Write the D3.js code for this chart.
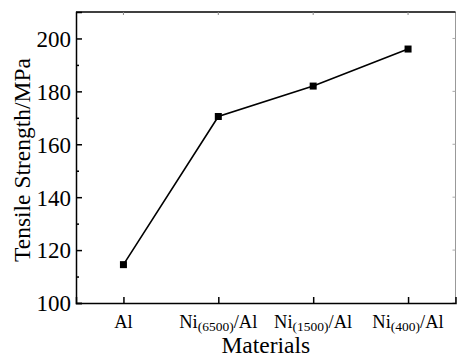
<!DOCTYPE html>
<html><head><meta charset="utf-8">
<script src="https://cdn.jsdelivr.net/npm/d3@7"></script>
<style>body{margin:0;background:#fff}svg{display:block}text{font-family:"Liberation Serif","Times New Roman",serif}</style>
</head><body>
<script>
const categories = ["Al", "Ni(6500)/Al", "Ni(1500)/Al", "Ni(400)/Al"];
const catBase = ["Ni", "Ni", "Ni", "Ni"];
const catSub = ["", "(6500)", "(1500)", "(400)"];
const values = [114.5, 170.5, 182, 196];
const yTicks = [100, 120, 140, 160, 180, 200];
const yMinor = [110, 130, 150, 170, 190];
const yDomain = [100, 210];

const W = 457, H = 359;
const m = {l: 76, r: 1.5, t: 12, b: 56};
const svg = d3.select("body").append("svg").attr("width", W).attr("height", H);
const x = d3.scaleLinear().domain([-0.5, 3.5]).range([m.l, W - m.r]);
const y = d3.scaleLinear().domain(yDomain).range([H - m.b, m.t]);

// right & top frame
svg.append("line").attr("x1", W - m.r).attr("x2", W - m.r).attr("y1", m.t).attr("y2", H - m.b)
  .attr("stroke", "#999").attr("stroke-width", 1);
svg.append("line").attr("x1", m.l).attr("x2", W - m.r).attr("y1", m.t).attr("y2", m.t)
  .attr("stroke", "#000").attr("stroke-width", 1.5);

// top / right ticks
categories.forEach((c, i) => {
  svg.append("line").attr("x1", x(i)).attr("x2", x(i)).attr("y1", m.t).attr("y2", m.t + 3)
    .attr("stroke", "#888").attr("stroke-width", 1);
});
yTicks.forEach(v => {
  svg.append("line").attr("x1", W - m.r).attr("x2", W - m.r - 3).attr("y1", y(v)).attr("y2", y(v))
    .attr("stroke", "#aaa").attr("stroke-width", 1);
});

// y axis
const yAxis = d3.axisLeft(y).tickValues(yTicks).tickSize(-6).tickPadding(5).tickFormat(d3.format("d"));
const gy = svg.append("g").attr("transform", `translate(${m.l},0)`).call(yAxis);
gy.attr("font-family", null);
gy.select(".domain").attr("stroke-width", 1.5);
gy.selectAll(".tick line").attr("stroke-width", 1.5);
gy.selectAll("text").attr("font-size", 23).attr("dy", "0.34em");
const yAxisMinor = d3.axisLeft(y).tickValues(yMinor).tickSize(-3).tickFormat("");
const gym = svg.append("g").attr("transform", `translate(${m.l},0)`).call(yAxisMinor);
gym.select(".domain").remove();
gym.selectAll(".tick line").attr("stroke-width", 1.5);

// x axis
const xAxis = d3.axisBottom(x).tickValues([0, 1, 2, 3]).tickSize(-6).tickFormat("");
const gx = svg.append("g").attr("transform", `translate(0,${H - m.b})`).call(xAxis);
gx.select(".domain").attr("stroke-width", 1.5);
gx.selectAll(".tick line").attr("stroke-width", 1.5);
categories.forEach((c, i) => {
  const t = svg.append("text").attr("x", x(i)).attr("y", H - m.b + 25)
    .attr("text-anchor", "middle").attr("font-size", 18.5);
  if (i === 0) { t.text(c); }
  else {
    t.append("tspan").text(catBase[i]);
    t.append("tspan").attr("font-size", 13.5).attr("dy", 3).text(catSub[i]);
    t.append("tspan").attr("dy", -3).text("/Al");
  }
});

// titles
svg.append("text").attr("x", (m.l + W - m.r) / 2).attr("y", H - 6)
  .attr("text-anchor", "middle").attr("font-size", 23.5).text("Materials");
svg.append("text").attr("transform", `translate(30,${(m.t + H - m.b) / 2 + 2.5}) rotate(-90)`)
  .attr("text-anchor", "middle").attr("font-size", 23.5).text("Tensile Strength/MPa");

// line & markers
const line = d3.line().x((d, i) => x(i)).y(d => y(d));
svg.append("path").datum(values).attr("d", line).attr("fill", "none")
  .attr("stroke", "#000").attr("stroke-width", 1.6);
svg.selectAll("rect.pt").data(values).enter().append("rect").attr("class", "pt")
  .attr("x", (d, i) => x(i) - 3.5).attr("y", d => y(d) - 3.5)
  .attr("width", 7).attr("height", 7).attr("fill", "#000");
</script>
</body></html>
